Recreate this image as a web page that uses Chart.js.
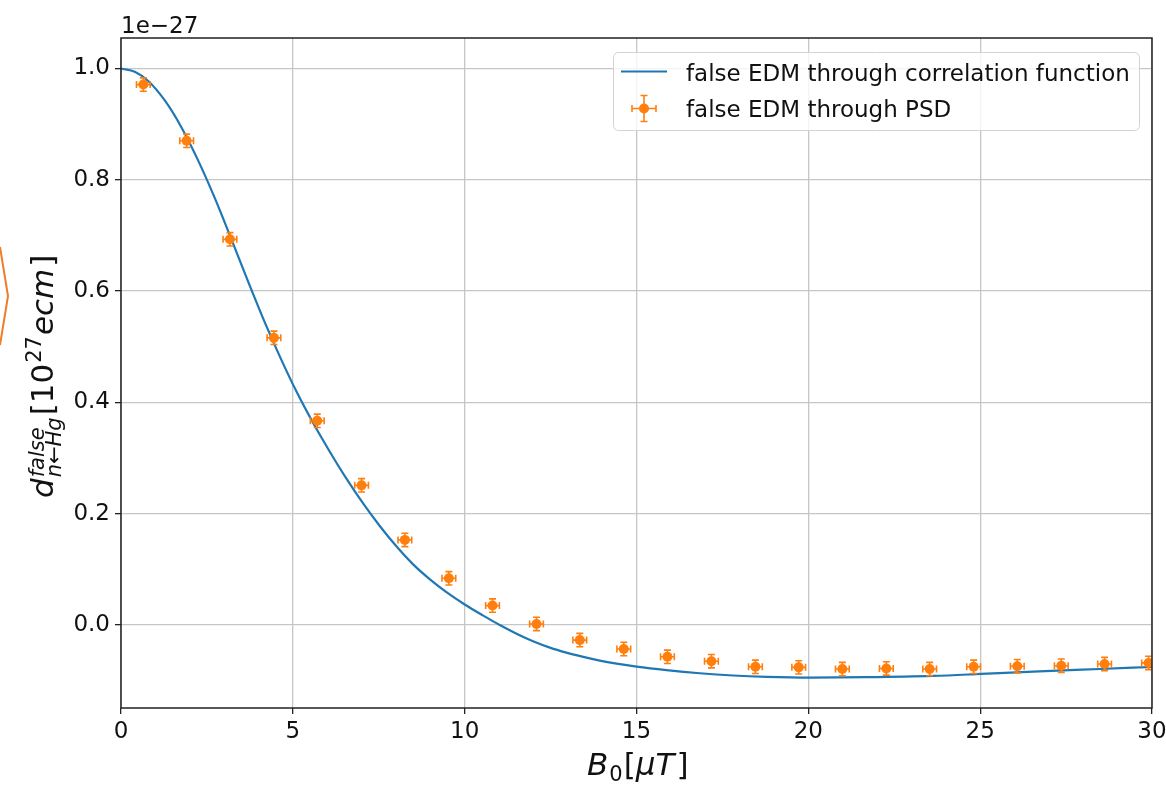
<!DOCTYPE html>
<html>
<head>
<meta charset="utf-8">
<script src="https://cdn.jsdelivr.net/npm/chart.js@4.4.1/dist/chart.umd.min.js"></script>
<style>
  html, body { margin: 0; padding: 0; background: #ffffff; }
  canvas { display: block; }
</style>
</head>
<body>
<canvas id="chart" width="1166" height="786"></canvas>
<script>
// False EDM vs. holding field B0 (values in units of 1e-27 e·cm)

// Correlation-function curve
const curveB = [0, 0.4, 0.8, 1.28, 1.76, 2.25, 2.73, 3.22, 3.70, 4.19, 4.67, 5.11, 5.60, 6.08,
  6.56, 7.05, 7.53, 8.02, 8.50, 8.99, 9.47, 10.0, 10.54, 11.02, 11.51, 11.99, 12.48, 12.96,
  13.45, 13.93, 14.42, 15.0, 15.87, 16.84, 17.81, 18.78, 20.04, 21.69, 23.63, 25.03, 26.54,
  28.48, 30.0];
const curveD = [1.0, 0.994, 0.977, 0.942, 0.894, 0.834, 0.767, 0.692, 0.617, 0.543, 0.476,
  0.419, 0.362, 0.311, 0.263, 0.218, 0.178, 0.141, 0.109, 0.082, 0.059, 0.037, 0.017, 0.000,
  -0.0155, -0.029, -0.0405, -0.0495, -0.0572, -0.0638, -0.0693, -0.0747, -0.081, -0.0866,
  -0.0906, -0.093, -0.0944, -0.0937, -0.0914, -0.0878, -0.0836, -0.0789, -0.0753];

// PSD estimates with error bars
const psdB = [0.65, 1.91, 3.17, 4.45, 5.71, 7.00, 8.26, 9.54, 10.81, 12.09, 13.35, 14.63,
  15.90, 17.18, 18.46, 19.72, 20.99, 22.27, 23.53, 24.81, 26.08, 27.36, 28.62, 29.90];
const psdD = [0.971, 0.870, 0.693, 0.516, 0.367, 0.251, 0.153, 0.084, 0.035, 0.002, -0.027,
  -0.043, -0.057, -0.065, -0.075, -0.076, -0.079, -0.078, -0.079, -0.075, -0.074, -0.073,
  -0.070, -0.068];
const psdBErr = [0.2, 0.2, 0.2, 0.2, 0.2, 0.2, 0.2, 0.2, 0.2, 0.2, 0.2, 0.2,
  0.2, 0.2, 0.2, 0.2, 0.2, 0.2, 0.2, 0.2, 0.2, 0.2, 0.2, 0.2];
const psdDErr = [0.012, 0.012, 0.012, 0.012, 0.012, 0.012, 0.012, 0.012, 0.012, 0.012, 0.012, 0.012,
  0.012, 0.012, 0.012, 0.012, 0.012, 0.012, 0.012, 0.012, 0.012, 0.012, 0.012, 0.012];

// Axis ticks
const xTicks = [0, 5, 10, 15, 20, 25, 30];
const yTicks = [0.0, 0.2, 0.4, 0.6, 0.8, 1.0];

const BLUE = '#1f77b4';
const ORANGE = '#ff7f0e';
const TEXT = '#111111';
const FONT = '"DejaVu Sans", "Liberation Sans", sans-serif';
const CAP = 3.5;

function drawErrorCross(ctx, cx, cy, x0, x1, y0, y1) {
  ctx.beginPath();
  ctx.moveTo(x0, cy); ctx.lineTo(x1, cy);
  ctx.moveTo(cx, y0); ctx.lineTo(cx, y1);
  ctx.moveTo(x0, cy - CAP); ctx.lineTo(x0, cy + CAP);
  ctx.moveTo(x1, cy - CAP); ctx.lineTo(x1, cy + CAP);
  ctx.moveTo(cx - CAP, y0); ctx.lineTo(cx + CAP, y0);
  ctx.moveTo(cx - CAP, y1); ctx.lineTo(cx + CAP, y1);
  ctx.stroke();
}

const errorBars = {
  id: 'errorBars',
  afterDatasetsDraw(chart) {
    const { ctx, chartArea: a } = chart;
    const xs = chart.scales.x, ys = chart.scales.y;
    ctx.save();
    ctx.beginPath();
    ctx.rect(a.left, a.top, a.right - a.left, a.bottom - a.top);
    ctx.clip();
    ctx.strokeStyle = ORANGE;
    ctx.lineWidth = 1.6;
    psdB.forEach((b, i) => {
      const d = psdD[i];
      drawErrorCross(ctx,
        xs.getPixelForValue(b), ys.getPixelForValue(d),
        xs.getPixelForValue(b - psdBErr[i]), xs.getPixelForValue(b + psdBErr[i]),
        ys.getPixelForValue(d - psdDErr[i]), ys.getPixelForValue(d + psdDErr[i]));
    });
    ctx.restore();
  }
};

// Draws a run of text pieces with their own fonts and baseline shifts
function drawRun(ctx, pieces) {
  let x = 0;
  pieces.forEach(p => {
    if (p.stack) {
      let w = 0;
      p.stack.forEach(s => {
        ctx.font = s.font;
        ctx.fillText(s.t, x, s.dy);
        w = Math.max(w, ctx.measureText(s.t).width);
      });
      x += w + (p.gap || 0);
    } else {
      ctx.font = p.font;
      ctx.fillText(p.t, x, p.dy || 0);
      x += ctx.measureText(p.t).width + (p.gap || 0);
    }
  });
}

const decorations = {
  id: 'decorations',
  afterDraw(chart) {
    const { ctx, chartArea: a } = chart;
    ctx.save();

    // axes frame
    ctx.strokeStyle = '#222222';
    ctx.lineWidth = 1.5;
    ctx.strokeRect(a.left, a.top, a.right - a.left, a.bottom - a.top);

    ctx.fillStyle = TEXT;
    ctx.textAlign = 'left';
    ctx.textBaseline = 'alphabetic';

    // offset label
    ctx.font = '23px ' + FONT;
    ctx.fillText('1e\u221227', a.left, 33);

    // x title: B_0[μT]
    ctx.save();
    ctx.translate(587, 775);
    const bigI = 'italic 31px ' + FONT, big = '31px ' + FONT;
    const smI = 'italic 21px ' + FONT, sm = '21px ' + FONT;
    drawRun(ctx, [
      { t: 'B', font: bigI, gap: 1 },
      { t: '0', font: sm, dy: 6, gap: 1 },
      { t: '[', font: big },
      { t: '\u03bc', font: bigI },
      { t: 'T', font: bigI, gap: 2 },
      { t: ']', font: big }
    ]);
    ctx.restore();

    // y title: d^{false}_{n←Hg}[10^{27} ecm]
    ctx.save();
    ctx.translate(53, 498);
    ctx.rotate(-Math.PI / 2);
    drawRun(ctx, [
      { t: 'd', font: bigI, gap: 1 },
      { stack: [
          { t: 'false', font: smI, dy: -9 },
          { t: 'n\u2190Hg', font: smI, dy: 8 }
        ], gap: 2 },
      { t: '[', font: big },
      { t: '10', font: big, gap: 1 },
      { t: '27', font: sm, dy: -12, gap: 1 },
      { t: 'ecm', font: bigI, gap: 2 },
      { t: ']', font: big }
    ]);
    ctx.restore();

    // legend
    const lx = 613.5, ly = 52.5, lw = 526, lh = 78;
    ctx.beginPath();
    ctx.roundRect(lx, ly, lw, lh, 5);
    ctx.fillStyle = 'rgba(255,255,255,0.8)';
    ctx.fill();
    ctx.strokeStyle = '#d2d2d2';
    ctx.lineWidth = 1;
    ctx.stroke();

    ctx.strokeStyle = BLUE;
    ctx.lineWidth = 2.2;
    ctx.beginPath();
    ctx.moveTo(621, 71.5); ctx.lineTo(667, 71.5);
    ctx.stroke();

    ctx.strokeStyle = ORANGE;
    ctx.fillStyle = ORANGE;
    ctx.lineWidth = 1.6;
    drawErrorCross(ctx, 644, 108.5, 632, 656, 95.5, 121.5);
    ctx.beginPath();
    ctx.arc(644, 108.5, 5, 0, Math.PI * 2);
    ctx.fill();

    ctx.fillStyle = TEXT;
    ctx.font = '23px ' + FONT;
    ctx.fillText('false EDM through correlation function', 686, 81);
    ctx.fillText('false EDM through PSD', 686, 117);

    // orange edge mark on the far left
    ctx.strokeStyle = '#ee7d2c';
    ctx.lineWidth = 2;
    ctx.beginPath();
    ctx.moveTo(0, 247); ctx.lineTo(8, 296); ctx.lineTo(0, 345);
    ctx.stroke();

    ctx.restore();
  }
};

const gridStyle = {
  color: '#c6c6c6',
  lineWidth: 1.3,
  drawTicks: true,
  tickLength: 6,
  tickColor: '#222222',
  tickWidth: 1.3
};

new Chart(document.getElementById('chart'), {
  data: {
    datasets: [
      {
        type: 'scatter',
        label: 'false EDM through PSD',
        data: psdB.map((b, i) => ({ x: b, y: psdD[i] })),
        backgroundColor: ORANGE,
        borderColor: ORANGE,
        pointRadius: 5,
        pointBorderWidth: 0,
        order: 0
      },
      {
        type: 'line',
        label: 'false EDM through correlation function',
        data: curveB.map((b, i) => ({ x: b, y: curveD[i] })),
        borderColor: BLUE,
        borderWidth: 2.2,
        pointRadius: 0,
        fill: false,
        cubicInterpolationMode: 'monotone',
        order: 1
      }
    ]
  },
  options: {
    responsive: false,
    devicePixelRatio: 1,
    animation: false,
    layout: { padding: { left: 0, top: 38, right: 14, bottom: 0 } },
    plugins: {
      legend: { display: false },
      tooltip: { enabled: false }
    },
    scales: {
      x: {
        type: 'linear',
        min: 0,
        max: 30,
        afterBuildTicks: s => { s.ticks = xTicks.map(v => ({ value: v })); },
        afterFit: s => { s.height = 78; s.paddingLeft = 0; s.paddingRight = 0; },
        ticks: {
          font: { family: FONT, size: 23 },
          color: TEXT,
          padding: 4,
          maxRotation: 0,
          callback: v => String(v)
        },
        grid: gridStyle,
        border: { display: false }
      },
      y: {
        type: 'linear',
        min: -0.149,
        max: 1.0547,
        afterBuildTicks: s => { s.ticks = yTicks.map(v => ({ value: v })); },
        afterFit: s => { s.width = 121; s.paddingTop = 0; s.paddingBottom = 0; },
        ticks: {
          font: { family: FONT, size: 23 },
          color: TEXT,
          padding: 5,
          callback: v => Number(v).toFixed(1)
        },
        grid: gridStyle,
        border: { display: false }
      }
    }
  },
  plugins: [errorBars, decorations]
});
</script>
</body>
</html>
